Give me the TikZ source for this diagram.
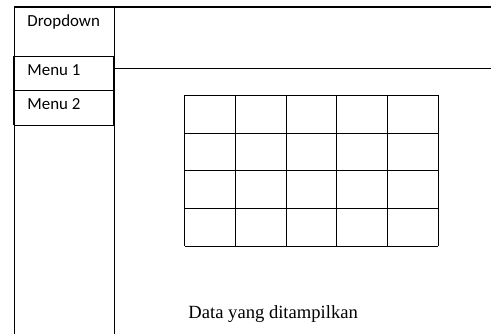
\documentclass[tikz,border=0pt]{standalone}
\usepackage{fontspec}
\setmainfont{Liberation Serif}
\newfontfamily\menufont{Carlito}
\usetikzlibrary{positioning}

\begin{document}
\begin{tikzpicture}[x=1pt,y=-1pt,line width=0.9pt,
    menutext/.style={anchor=base west,inner sep=0pt,font=\menufont\fontsize{16.9}{18}\selectfont}]
  \useasboundingbox (0,0) rectangle (491,334);
  % Frame and sidebar
  \draw[line width=1.4pt] (14,7) -- (491,7);
  \draw (14,334) -- (14,7);
  \draw (114,7) -- (114,334);
  \draw (114,68.7) -- (491,68.7);
  \draw (14,56) -- (114,56);
  \draw (14,90.3) -- (114,90.3);
  \draw (14,125.3) -- (114,125.3);
  \draw[line width=1.4pt] (14,56) -- (14,125.3);
  \draw[line width=1.4pt] (114,56) -- (114,125.3);
  % Menu labels
  \node[menutext] (dropdown) at (27,26.5) {Dropdown};
  \node[menutext] (menu1) at (27,75.3) {Menu 1};
  \node[menutext] (menu2) at (27,110) {Menu 2};

  % Table of data
  \foreach \i in {0,...,5}
    \draw (184.7+\i*50.72,95.3) -- (184.7+\i*50.72,246);
  \foreach \j in {0,...,4}
    \draw (184.7,95.3+\j*37.68) -- (438.3,95.3+\j*37.68);
  \node[anchor=base west,inner sep=0pt,font=\fontsize{18.6}{20}\selectfont] (data) at (188,318.3) {Data yang ditampilkan};
\end{tikzpicture}
\end{document}
